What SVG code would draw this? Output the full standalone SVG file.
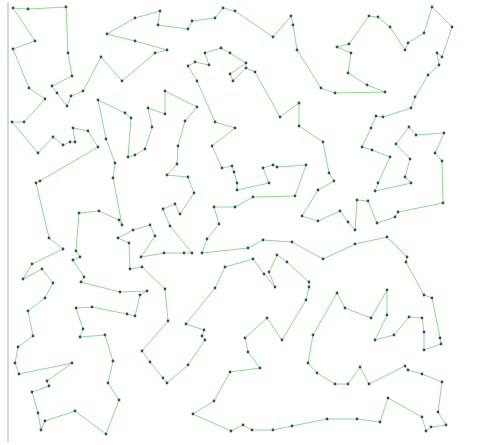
<svg xmlns="http://www.w3.org/2000/svg" width="480" height="445" viewBox="0 0 480 445">
<style>
.e{fill:none;stroke:#8adf8a;stroke-width:1;stroke-linejoin:round}
.d{fill:#3c4c5c}
</style>
<defs><circle id="dot" r="1.4" class="d"/></defs>
<rect width="480" height="445" fill="#fff"/>
<line x1="8" y1="3" x2="8" y2="442" stroke="#bdbdbd" stroke-width="1.2"/>
<g id="connectors">
<polygon class="e" points="13,8 28,9 66,7 68,53 72,76 52,86 57,93 67,106 71,96 83,91 101,57 122,81 155,53 167,50 135,41 107,34 135,18 160,11 158,25 188,29 192,21 215,18 223,8 235,11 273,37 291,16 293,25 297,50 321,88 335,93 385,92 367,85 348,73 351,53 337,47 349,44 369,16 378,17 390,27 405,50 408,43 424,33 432,7 452,27 442,57 437,53 439,65 428,75 415,97 411,108 383,117 376,116 371,128 362,147 372,150 390,157 378,183 375,191 411,183 405,177 410,159 396,144 409,127 416,135 444,133 435,153 442,161 443,203 398,212 395,217 377,223 368,201 357,200 355,230 348,222 340,211 318,221 302,216 318,190 334,181 329,173 323,142 299,126 299,103 280,117 255,72 246,68 233,81 230,74 246,63 230,53 221,48 205,53 209,65 195,62 188,66 197,81 215,122 235,128 212,146 222,168 232,166 234,172 237,183 237,190 269,183 263,168 273,165 277,167 306,165 295,196 253,197 235,207 214,207 219,224 207,239 202,253 248,248 263,240 292,242 323,259 355,244 387,237 407,257 406,262 424,295 432,298 440,338 441,344 424,350 424,332 422,318 409,317 394,335 375,340 387,315 387,290 371,318 345,308 337,293 313,335 308,363 317,373 335,384 348,384 360,367 369,384 405,366 408,370 422,374 442,382 438,412 446,425 431,427 426,431 422,417 388,398 380,422 357,419 327,419 292,426 273,430 252,430 243,425 231,431 193,414 214,401 230,372 260,368 248,352 245,338 267,318 282,340 306,300 309,287 309,282 287,262 277,255 269,272 275,287 264,274 253,259 225,267 215,288 186,324 204,330 202,336 205,340 188,365 167,383 163,378 150,362 142,351 168,321 165,289 142,267 130,269 129,243 118,238 133,230 150,225 155,236 141,257 164,253 184,253 192,253 170,226 163,209 175,204 180,214 194,193 188,177 167,175 177,164 178,146 185,121 197,107 165,91 165,114 148,108 152,127 145,149 135,155 128,157 131,118 125,113 98,100 106,139 115,163 113,178 122,225 119,220 99,211 79,213 76,251 80,257 73,260 84,277 81,282 120,292 147,291 140,295 135,316 127,314 92,307 76,308 83,329 80,337 105,335 113,361 108,383 119,400 106,434 75,411 45,421 41,430 38,413 32,392 49,386 47,381 72,363 19,374 15,363 18,347 33,336 28,311 45,298 53,283 42,269 23,279 32,264 63,249 49,238 36,183 40,181 98,147 88,131 73,128 75,142 70,142 63,145 53,137 38,153 12,122 24,122 45,99 29,88 13,49 35,41"/>
</g>
<g id="nodes">
<g id="n1"><use href="#dot" x="13" y="8"/></g>
<g id="n2"><use href="#dot" x="28" y="9"/></g>
<g id="n3"><use href="#dot" x="66" y="7"/></g>
<g id="n4"><use href="#dot" x="68" y="53"/></g>
<g id="n5"><use href="#dot" x="72" y="76"/></g>
<g id="n6"><use href="#dot" x="52" y="86"/></g>
<g id="n7"><use href="#dot" x="57" y="93"/></g>
<g id="n8"><use href="#dot" x="67" y="106"/></g>
<g id="n9"><use href="#dot" x="71" y="96"/></g>
<g id="n10"><use href="#dot" x="83" y="91"/></g>
<g id="n11"><use href="#dot" x="101" y="57"/></g>
<g id="n12"><use href="#dot" x="122" y="81"/></g>
<g id="n13"><use href="#dot" x="155" y="53"/></g>
<g id="n14"><use href="#dot" x="167" y="50"/></g>
<g id="n15"><use href="#dot" x="135" y="41"/></g>
<g id="n16"><use href="#dot" x="107" y="34"/></g>
<g id="n17"><use href="#dot" x="135" y="18"/></g>
<g id="n18"><use href="#dot" x="160" y="11"/></g>
<g id="n19"><use href="#dot" x="158" y="25"/></g>
<g id="n20"><use href="#dot" x="188" y="29"/></g>
<g id="n21"><use href="#dot" x="192" y="21"/></g>
<g id="n22"><use href="#dot" x="215" y="18"/></g>
<g id="n23"><use href="#dot" x="223" y="8"/></g>
<g id="n24"><use href="#dot" x="235" y="11"/></g>
<g id="n25"><use href="#dot" x="273" y="37"/></g>
<g id="n26"><use href="#dot" x="291" y="16"/></g>
<g id="n27"><use href="#dot" x="293" y="25"/></g>
<g id="n28"><use href="#dot" x="297" y="50"/></g>
<g id="n29"><use href="#dot" x="321" y="88"/></g>
<g id="n30"><use href="#dot" x="335" y="93"/></g>
<g id="n31"><use href="#dot" x="385" y="92"/></g>
<g id="n32"><use href="#dot" x="367" y="85"/></g>
<g id="n33"><use href="#dot" x="348" y="73"/></g>
<g id="n34"><use href="#dot" x="351" y="53"/></g>
<g id="n35"><use href="#dot" x="337" y="47"/></g>
<g id="n36"><use href="#dot" x="349" y="44"/></g>
<g id="n37"><use href="#dot" x="369" y="16"/></g>
<g id="n38"><use href="#dot" x="378" y="17"/></g>
<g id="n39"><use href="#dot" x="390" y="27"/></g>
<g id="n40"><use href="#dot" x="405" y="50"/></g>
<g id="n41"><use href="#dot" x="408" y="43"/></g>
<g id="n42"><use href="#dot" x="424" y="33"/></g>
<g id="n43"><use href="#dot" x="432" y="7"/></g>
<g id="n44"><use href="#dot" x="452" y="27"/></g>
<g id="n45"><use href="#dot" x="442" y="57"/></g>
<g id="n46"><use href="#dot" x="437" y="53"/></g>
<g id="n47"><use href="#dot" x="439" y="65"/></g>
<g id="n48"><use href="#dot" x="428" y="75"/></g>
<g id="n49"><use href="#dot" x="415" y="97"/></g>
<g id="n50"><use href="#dot" x="411" y="108"/></g>
<g id="n51"><use href="#dot" x="383" y="117"/></g>
<g id="n52"><use href="#dot" x="376" y="116"/></g>
<g id="n53"><use href="#dot" x="371" y="128"/></g>
<g id="n54"><use href="#dot" x="362" y="147"/></g>
<g id="n55"><use href="#dot" x="372" y="150"/></g>
<g id="n56"><use href="#dot" x="390" y="157"/></g>
<g id="n57"><use href="#dot" x="378" y="183"/></g>
<g id="n58"><use href="#dot" x="375" y="191"/></g>
<g id="n59"><use href="#dot" x="411" y="183"/></g>
<g id="n60"><use href="#dot" x="405" y="177"/></g>
<g id="n61"><use href="#dot" x="410" y="159"/></g>
<g id="n62"><use href="#dot" x="396" y="144"/></g>
<g id="n63"><use href="#dot" x="409" y="127"/></g>
<g id="n64"><use href="#dot" x="416" y="135"/></g>
<g id="n65"><use href="#dot" x="444" y="133"/></g>
<g id="n66"><use href="#dot" x="435" y="153"/></g>
<g id="n67"><use href="#dot" x="442" y="161"/></g>
<g id="n68"><use href="#dot" x="443" y="203"/></g>
<g id="n69"><use href="#dot" x="398" y="212"/></g>
<g id="n70"><use href="#dot" x="395" y="217"/></g>
<g id="n71"><use href="#dot" x="377" y="223"/></g>
<g id="n72"><use href="#dot" x="368" y="201"/></g>
<g id="n73"><use href="#dot" x="357" y="200"/></g>
<g id="n74"><use href="#dot" x="355" y="230"/></g>
<g id="n75"><use href="#dot" x="348" y="222"/></g>
<g id="n76"><use href="#dot" x="340" y="211"/></g>
<g id="n77"><use href="#dot" x="318" y="221"/></g>
<g id="n78"><use href="#dot" x="302" y="216"/></g>
<g id="n79"><use href="#dot" x="318" y="190"/></g>
<g id="n80"><use href="#dot" x="334" y="181"/></g>
<g id="n81"><use href="#dot" x="329" y="173"/></g>
<g id="n82"><use href="#dot" x="323" y="142"/></g>
<g id="n83"><use href="#dot" x="299" y="126"/></g>
<g id="n84"><use href="#dot" x="299" y="103"/></g>
<g id="n85"><use href="#dot" x="280" y="117"/></g>
<g id="n86"><use href="#dot" x="255" y="72"/></g>
<g id="n87"><use href="#dot" x="246" y="68"/></g>
<g id="n88"><use href="#dot" x="233" y="81"/></g>
<g id="n89"><use href="#dot" x="230" y="74"/></g>
<g id="n90"><use href="#dot" x="246" y="63"/></g>
<g id="n91"><use href="#dot" x="230" y="53"/></g>
<g id="n92"><use href="#dot" x="221" y="48"/></g>
<g id="n93"><use href="#dot" x="205" y="53"/></g>
<g id="n94"><use href="#dot" x="209" y="65"/></g>
<g id="n95"><use href="#dot" x="195" y="62"/></g>
<g id="n96"><use href="#dot" x="188" y="66"/></g>
<g id="n97"><use href="#dot" x="197" y="81"/></g>
<g id="n98"><use href="#dot" x="215" y="122"/></g>
<g id="n99"><use href="#dot" x="235" y="128"/></g>
<g id="n100"><use href="#dot" x="212" y="146"/></g>
<g id="n101"><use href="#dot" x="222" y="168"/></g>
<g id="n102"><use href="#dot" x="232" y="166"/></g>
<g id="n103"><use href="#dot" x="234" y="172"/></g>
<g id="n104"><use href="#dot" x="237" y="183"/></g>
<g id="n105"><use href="#dot" x="237" y="190"/></g>
<g id="n106"><use href="#dot" x="269" y="183"/></g>
<g id="n107"><use href="#dot" x="263" y="168"/></g>
<g id="n108"><use href="#dot" x="273" y="165"/></g>
<g id="n109"><use href="#dot" x="277" y="167"/></g>
<g id="n110"><use href="#dot" x="306" y="165"/></g>
<g id="n111"><use href="#dot" x="295" y="196"/></g>
<g id="n112"><use href="#dot" x="253" y="197"/></g>
<g id="n113"><use href="#dot" x="235" y="207"/></g>
<g id="n114"><use href="#dot" x="214" y="207"/></g>
<g id="n115"><use href="#dot" x="219" y="224"/></g>
<g id="n116"><use href="#dot" x="207" y="239"/></g>
<g id="n117"><use href="#dot" x="202" y="253"/></g>
<g id="n118"><use href="#dot" x="248" y="248"/></g>
<g id="n119"><use href="#dot" x="263" y="240"/></g>
<g id="n120"><use href="#dot" x="292" y="242"/></g>
<g id="n121"><use href="#dot" x="323" y="259"/></g>
<g id="n122"><use href="#dot" x="355" y="244"/></g>
<g id="n123"><use href="#dot" x="387" y="237"/></g>
<g id="n124"><use href="#dot" x="407" y="257"/></g>
<g id="n125"><use href="#dot" x="406" y="262"/></g>
<g id="n126"><use href="#dot" x="424" y="295"/></g>
<g id="n127"><use href="#dot" x="432" y="298"/></g>
<g id="n128"><use href="#dot" x="440" y="338"/></g>
<g id="n129"><use href="#dot" x="441" y="344"/></g>
<g id="n130"><use href="#dot" x="424" y="350"/></g>
<g id="n131"><use href="#dot" x="424" y="332"/></g>
<g id="n132"><use href="#dot" x="422" y="318"/></g>
<g id="n133"><use href="#dot" x="409" y="317"/></g>
<g id="n134"><use href="#dot" x="394" y="335"/></g>
<g id="n135"><use href="#dot" x="375" y="340"/></g>
<g id="n136"><use href="#dot" x="387" y="315"/></g>
<g id="n137"><use href="#dot" x="387" y="290"/></g>
<g id="n138"><use href="#dot" x="371" y="318"/></g>
<g id="n139"><use href="#dot" x="345" y="308"/></g>
<g id="n140"><use href="#dot" x="337" y="293"/></g>
<g id="n141"><use href="#dot" x="313" y="335"/></g>
<g id="n142"><use href="#dot" x="308" y="363"/></g>
<g id="n143"><use href="#dot" x="317" y="373"/></g>
<g id="n144"><use href="#dot" x="335" y="384"/></g>
<g id="n145"><use href="#dot" x="348" y="384"/></g>
<g id="n146"><use href="#dot" x="360" y="367"/></g>
<g id="n147"><use href="#dot" x="369" y="384"/></g>
<g id="n148"><use href="#dot" x="405" y="366"/></g>
<g id="n149"><use href="#dot" x="408" y="370"/></g>
<g id="n150"><use href="#dot" x="422" y="374"/></g>
<g id="n151"><use href="#dot" x="442" y="382"/></g>
<g id="n152"><use href="#dot" x="438" y="412"/></g>
<g id="n153"><use href="#dot" x="446" y="425"/></g>
<g id="n154"><use href="#dot" x="431" y="427"/></g>
<g id="n155"><use href="#dot" x="426" y="431"/></g>
<g id="n156"><use href="#dot" x="422" y="417"/></g>
<g id="n157"><use href="#dot" x="388" y="398"/></g>
<g id="n158"><use href="#dot" x="380" y="422"/></g>
<g id="n159"><use href="#dot" x="357" y="419"/></g>
<g id="n160"><use href="#dot" x="327" y="419"/></g>
<g id="n161"><use href="#dot" x="292" y="426"/></g>
<g id="n162"><use href="#dot" x="273" y="430"/></g>
<g id="n163"><use href="#dot" x="252" y="430"/></g>
<g id="n164"><use href="#dot" x="243" y="425"/></g>
<g id="n165"><use href="#dot" x="231" y="431"/></g>
<g id="n166"><use href="#dot" x="193" y="414"/></g>
<g id="n167"><use href="#dot" x="214" y="401"/></g>
<g id="n168"><use href="#dot" x="230" y="372"/></g>
<g id="n169"><use href="#dot" x="260" y="368"/></g>
<g id="n170"><use href="#dot" x="248" y="352"/></g>
<g id="n171"><use href="#dot" x="245" y="338"/></g>
<g id="n172"><use href="#dot" x="267" y="318"/></g>
<g id="n173"><use href="#dot" x="282" y="340"/></g>
<g id="n174"><use href="#dot" x="306" y="300"/></g>
<g id="n175"><use href="#dot" x="309" y="287"/></g>
<g id="n176"><use href="#dot" x="309" y="282"/></g>
<g id="n177"><use href="#dot" x="287" y="262"/></g>
<g id="n178"><use href="#dot" x="277" y="255"/></g>
<g id="n179"><use href="#dot" x="269" y="272"/></g>
<g id="n180"><use href="#dot" x="275" y="287"/></g>
<g id="n181"><use href="#dot" x="264" y="274"/></g>
<g id="n182"><use href="#dot" x="253" y="259"/></g>
<g id="n183"><use href="#dot" x="225" y="267"/></g>
<g id="n184"><use href="#dot" x="215" y="288"/></g>
<g id="n185"><use href="#dot" x="186" y="324"/></g>
<g id="n186"><use href="#dot" x="204" y="330"/></g>
<g id="n187"><use href="#dot" x="202" y="336"/></g>
<g id="n188"><use href="#dot" x="205" y="340"/></g>
<g id="n189"><use href="#dot" x="188" y="365"/></g>
<g id="n190"><use href="#dot" x="167" y="383"/></g>
<g id="n191"><use href="#dot" x="163" y="378"/></g>
<g id="n192"><use href="#dot" x="150" y="362"/></g>
<g id="n193"><use href="#dot" x="142" y="351"/></g>
<g id="n194"><use href="#dot" x="168" y="321"/></g>
<g id="n195"><use href="#dot" x="165" y="289"/></g>
<g id="n196"><use href="#dot" x="142" y="267"/></g>
<g id="n197"><use href="#dot" x="130" y="269"/></g>
<g id="n198"><use href="#dot" x="129" y="243"/></g>
<g id="n199"><use href="#dot" x="118" y="238"/></g>
<g id="n200"><use href="#dot" x="133" y="230"/></g>
<g id="n201"><use href="#dot" x="150" y="225"/></g>
<g id="n202"><use href="#dot" x="155" y="236"/></g>
<g id="n203"><use href="#dot" x="141" y="257"/></g>
<g id="n204"><use href="#dot" x="164" y="253"/></g>
<g id="n205"><use href="#dot" x="184" y="253"/></g>
<g id="n206"><use href="#dot" x="192" y="253"/></g>
<g id="n207"><use href="#dot" x="170" y="226"/></g>
<g id="n208"><use href="#dot" x="163" y="209"/></g>
<g id="n209"><use href="#dot" x="175" y="204"/></g>
<g id="n210"><use href="#dot" x="180" y="214"/></g>
<g id="n211"><use href="#dot" x="194" y="193"/></g>
<g id="n212"><use href="#dot" x="188" y="177"/></g>
<g id="n213"><use href="#dot" x="167" y="175"/></g>
<g id="n214"><use href="#dot" x="177" y="164"/></g>
<g id="n215"><use href="#dot" x="178" y="146"/></g>
<g id="n216"><use href="#dot" x="185" y="121"/></g>
<g id="n217"><use href="#dot" x="197" y="107"/></g>
<g id="n218"><use href="#dot" x="165" y="91"/></g>
<g id="n219"><use href="#dot" x="165" y="114"/></g>
<g id="n220"><use href="#dot" x="148" y="108"/></g>
<g id="n221"><use href="#dot" x="152" y="127"/></g>
<g id="n222"><use href="#dot" x="145" y="149"/></g>
<g id="n223"><use href="#dot" x="135" y="155"/></g>
<g id="n224"><use href="#dot" x="128" y="157"/></g>
<g id="n225"><use href="#dot" x="131" y="118"/></g>
<g id="n226"><use href="#dot" x="125" y="113"/></g>
<g id="n227"><use href="#dot" x="98" y="100"/></g>
<g id="n228"><use href="#dot" x="106" y="139"/></g>
<g id="n229"><use href="#dot" x="115" y="163"/></g>
<g id="n230"><use href="#dot" x="113" y="178"/></g>
<g id="n231"><use href="#dot" x="122" y="225"/></g>
<g id="n232"><use href="#dot" x="119" y="220"/></g>
<g id="n233"><use href="#dot" x="99" y="211"/></g>
<g id="n234"><use href="#dot" x="79" y="213"/></g>
<g id="n235"><use href="#dot" x="76" y="251"/></g>
<g id="n236"><use href="#dot" x="80" y="257"/></g>
<g id="n237"><use href="#dot" x="73" y="260"/></g>
<g id="n238"><use href="#dot" x="84" y="277"/></g>
<g id="n239"><use href="#dot" x="81" y="282"/></g>
<g id="n240"><use href="#dot" x="120" y="292"/></g>
<g id="n241"><use href="#dot" x="147" y="291"/></g>
<g id="n242"><use href="#dot" x="140" y="295"/></g>
<g id="n243"><use href="#dot" x="135" y="316"/></g>
<g id="n244"><use href="#dot" x="127" y="314"/></g>
<g id="n245"><use href="#dot" x="92" y="307"/></g>
<g id="n246"><use href="#dot" x="76" y="308"/></g>
<g id="n247"><use href="#dot" x="83" y="329"/></g>
<g id="n248"><use href="#dot" x="80" y="337"/></g>
<g id="n249"><use href="#dot" x="105" y="335"/></g>
<g id="n250"><use href="#dot" x="113" y="361"/></g>
<g id="n251"><use href="#dot" x="108" y="383"/></g>
<g id="n252"><use href="#dot" x="119" y="400"/></g>
<g id="n253"><use href="#dot" x="106" y="434"/></g>
<g id="n254"><use href="#dot" x="75" y="411"/></g>
<g id="n255"><use href="#dot" x="45" y="421"/></g>
<g id="n256"><use href="#dot" x="41" y="430"/></g>
<g id="n257"><use href="#dot" x="38" y="413"/></g>
<g id="n258"><use href="#dot" x="32" y="392"/></g>
<g id="n259"><use href="#dot" x="49" y="386"/></g>
<g id="n260"><use href="#dot" x="47" y="381"/></g>
<g id="n261"><use href="#dot" x="72" y="363"/></g>
<g id="n262"><use href="#dot" x="19" y="374"/></g>
<g id="n263"><use href="#dot" x="15" y="363"/></g>
<g id="n264"><use href="#dot" x="18" y="347"/></g>
<g id="n265"><use href="#dot" x="33" y="336"/></g>
<g id="n266"><use href="#dot" x="28" y="311"/></g>
<g id="n267"><use href="#dot" x="45" y="298"/></g>
<g id="n268"><use href="#dot" x="53" y="283"/></g>
<g id="n269"><use href="#dot" x="42" y="269"/></g>
<g id="n270"><use href="#dot" x="23" y="279"/></g>
<g id="n271"><use href="#dot" x="32" y="264"/></g>
<g id="n272"><use href="#dot" x="63" y="249"/></g>
<g id="n273"><use href="#dot" x="49" y="238"/></g>
<g id="n274"><use href="#dot" x="36" y="183"/></g>
<g id="n275"><use href="#dot" x="40" y="181"/></g>
<g id="n276"><use href="#dot" x="98" y="147"/></g>
<g id="n277"><use href="#dot" x="88" y="131"/></g>
<g id="n278"><use href="#dot" x="73" y="128"/></g>
<g id="n279"><use href="#dot" x="75" y="142"/></g>
<g id="n280"><use href="#dot" x="70" y="142"/></g>
<g id="n281"><use href="#dot" x="63" y="145"/></g>
<g id="n282"><use href="#dot" x="53" y="137"/></g>
<g id="n283"><use href="#dot" x="38" y="153"/></g>
<g id="n284"><use href="#dot" x="12" y="122"/></g>
<g id="n285"><use href="#dot" x="24" y="122"/></g>
<g id="n286"><use href="#dot" x="45" y="99"/></g>
<g id="n287"><use href="#dot" x="29" y="88"/></g>
<g id="n288"><use href="#dot" x="13" y="49"/></g>
<g id="n289"><use href="#dot" x="35" y="41"/></g>
</g>
</svg>
